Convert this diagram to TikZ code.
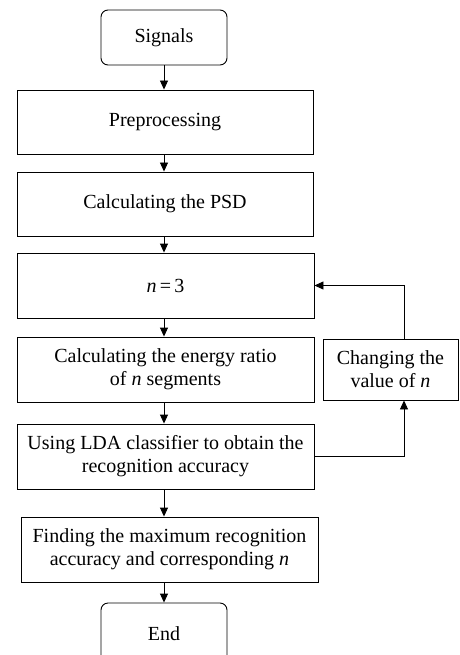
\documentclass[tikz,border=0pt]{standalone}
\usepackage{fontspec}
\setmainfont{Liberation Serif}
\usetikzlibrary{arrows.meta}
\begin{document}
\begin{tikzpicture}[x=1pt,y=-1pt,
  box/.style={draw, line width=0.9pt, inner sep=0pt, align=center,
    font=\fontsize{20}{23}\selectfont, minimum height=65pt, minimum width=297pt},
  term/.style={box, rounded corners=7pt, minimum width=126pt},
  arr/.style={-{Triangle[length=9pt,width=8pt]}, line width=0.9pt}]
\useasboundingbox (0,0) rectangle (459,655);
\node[term, minimum height=55pt] (sig) at (164,37.5) {Signals};
\node[box, minimum height=64pt, minimum width=296pt] (pre) at (165,122) {Preprocessing};
\node[box, minimum height=64pt, minimum width=296pt] (psd) at (165,204) {Calculating the PSD};
\node[box] (n3) at (165.5,285.5) {\textit{n}\thinspace=\thinspace3};
\node[box] (en) at (165.5,369.5) {Calculating the energy ratio\\of \textit{n} segments};
\node[box, minimum width=135pt, minimum height=61pt] (chg) at (390.5,369.5) {Changing the\\value of \textit{n}};
\node[box] (lda) at (165.5,456.5) {Using LDA classifier to obtain the\\recognition accuracy};
\node[box] (find) at (169.5,549.5) {Finding the maximum recognition\\accuracy and corresponding \textit{n}};
\node[term, minimum height=62pt] (end) at (164,634) {End};
\coordinate (up) at (404,285.5);
\coordinate (rt) at (404,456.5);
\draw[arr] (sig.south) -- (sig.south |- pre.north);
\draw[arr] (pre.south -| sig.south) -- (sig.south |- psd.north);
\draw[arr] (psd.south -| sig.south) -- (sig.south |- n3.north);
\draw[arr] (n3.south -| sig.south) -- (sig.south |- en.north);
\draw[arr] (en.south -| sig.south) -- (sig.south |- lda.north);
\draw[arr] (lda.south -| sig.south) -- (sig.south |- find.north);
\draw[arr] (find.south -| sig.south) -- (end.north);
\draw[arr] (lda.east) -- (rt) -- (rt |- chg.south);
\draw[arr] (up |- chg.north) -- (up) -- (n3.east);
\end{tikzpicture}
\end{document}
